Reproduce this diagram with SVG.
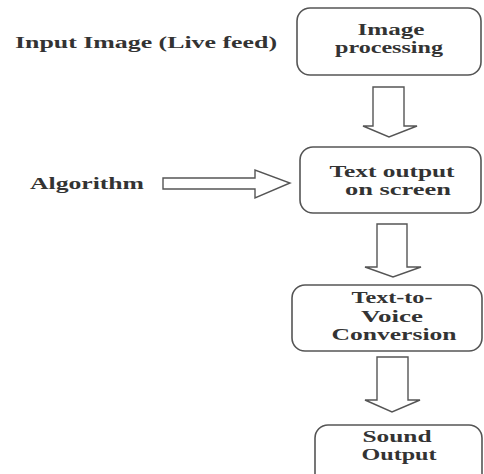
<svg xmlns="http://www.w3.org/2000/svg" width="484" height="474" viewBox="0 0 484 474">
<style>
.box{fill:#fff;stroke:#555;stroke-width:1.6}
.arr{fill:#fff;stroke:#555;stroke-width:1.4;stroke-linejoin:miter}
.c{text-anchor:middle}
</style>
<rect width="484" height="474" fill="#fff"/>
<g font-family="Liberation Serif, Times New Roman, serif" font-weight="bold" font-size="16" fill="#333">
<g id="label-input"><text x="15" y="48" textLength="262" lengthAdjust="spacingAndGlyphs">Input Image (Live feed)</text></g>
<g id="label-algorithm"><text x="30" y="189" textLength="114" lengthAdjust="spacingAndGlyphs">Algorithm</text></g>
<g id="node-image-processing">
<rect class="box" x="297" y="8" width="184" height="67" rx="13"/>
<text class="c" x="391" y="35" textLength="67" lengthAdjust="spacingAndGlyphs">Image</text>
<text class="c" x="389" y="53" textLength="108" lengthAdjust="spacingAndGlyphs">processing</text>
</g>
<g id="node-text-output">
<rect class="box" x="300" y="147" width="181" height="66" rx="13"/>
<text class="c" x="392" y="177" textLength="125" lengthAdjust="spacingAndGlyphs">Text output</text>
<text class="c" x="398" y="195" textLength="106" lengthAdjust="spacingAndGlyphs">on screen</text>
</g>
<g id="node-tts">
<rect class="box" x="292" y="285" width="190" height="66" rx="13"/>
<text class="c" x="392" y="303" textLength="81" lengthAdjust="spacingAndGlyphs">Text-to-</text>
<text class="c" x="392" y="322" textLength="62" lengthAdjust="spacingAndGlyphs">Voice</text>
<text class="c" x="394" y="340" textLength="125" lengthAdjust="spacingAndGlyphs">Conversion</text>
</g>
<g id="node-sound">
<rect class="box" x="315" y="425" width="167" height="66" rx="13"/>
<text class="c" x="397" y="442" textLength="69" lengthAdjust="spacingAndGlyphs">Sound</text>
<text class="c" x="399" y="460" textLength="75" lengthAdjust="spacingAndGlyphs">Output</text>
</g>
</g>
<g id="connectors">
<path class="arr" d="M373 87 H404 V126 H417 L389 137 L363 126 H373 Z"/>
<path class="arr" d="M377 224 H407 V267 H421 L393 277 L365 267 H377 Z"/>
<path class="arr" d="M377 357 H408 V400 H420 L392 412 L365 400 H377 Z"/>
<path class="arr" d="M163 178 H255 V170 L290 183 L255 198 V189 H163 Z"/>
</g>
</svg>
